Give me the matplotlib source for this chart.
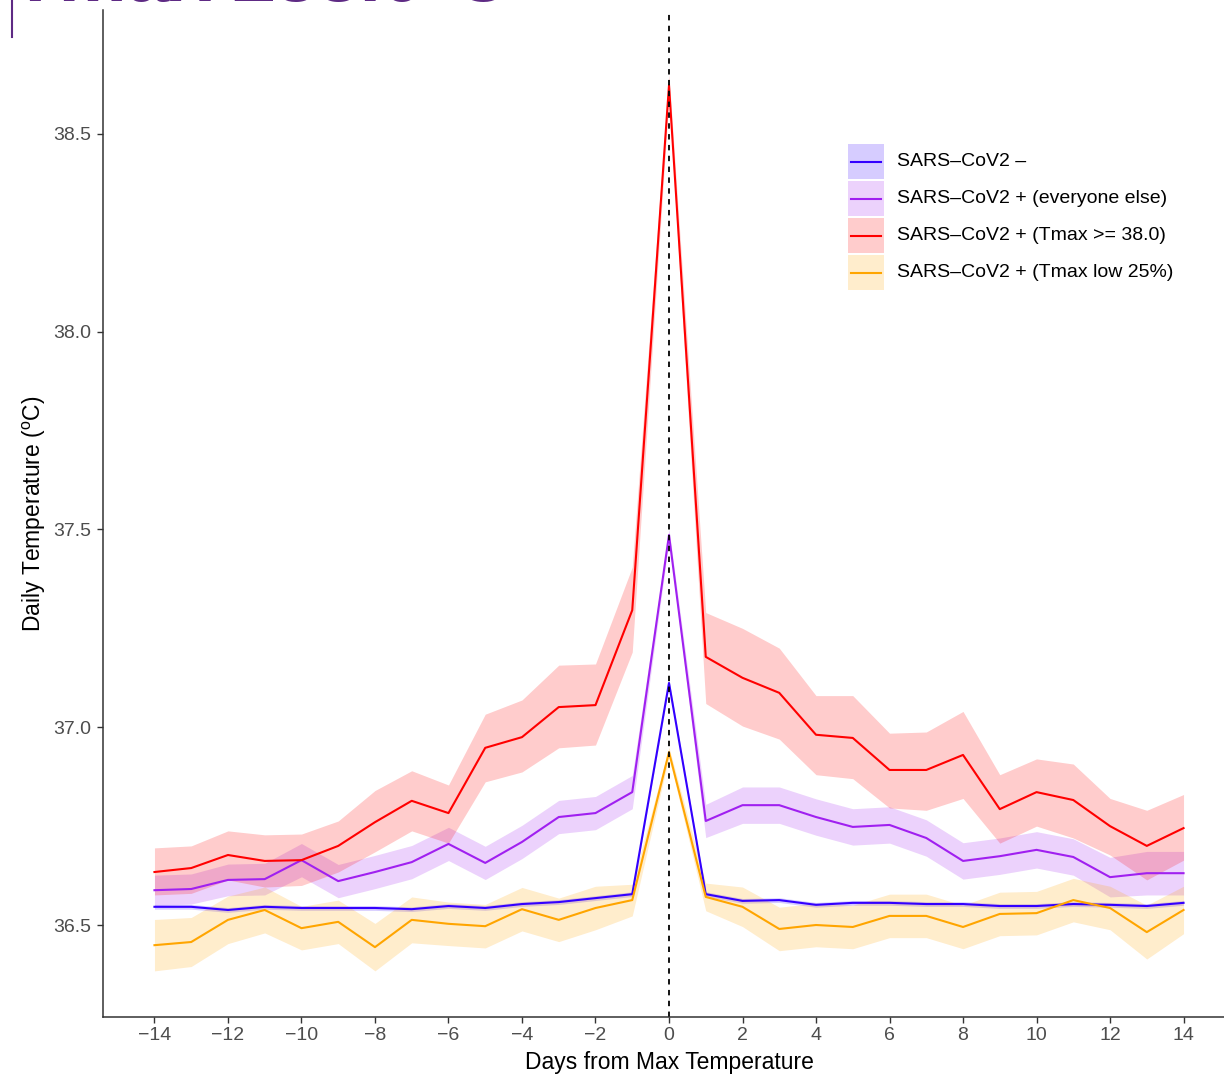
import matplotlib
matplotlib.use("Agg")
import matplotlib.pyplot as plt
from matplotlib.patches import Rectangle
from matplotlib.lines import Line2D

plt.rcParams['font.family'] = ['Liberation Sans', 'DejaVu Sans']
plt.rcParams['mathtext.fontset'] = 'custom'
plt.rcParams['mathtext.rm'] = 'Liberation Sans'

# Days relative to the day of maximum temperature
days = list(range(-14, 15))

# SARS-CoV2 negative
neg_mean = [36.546, 36.546, 36.538, 36.546, 36.543, 36.543, 36.543, 36.540, 36.548, 36.543,
            36.553, 36.558, 36.568, 36.578, 37.112, 36.578, 36.561, 36.563, 36.551, 36.556,
            36.556, 36.553, 36.553, 36.548, 36.548, 36.553, 36.551, 36.548, 36.556]
neg_ci = [0.006] * 14 + [0.008] + [0.006] * 14

# SARS-CoV2 positive, everyone else
pos_mean = [36.588, 36.591, 36.614, 36.616, 36.664, 36.611, 36.634, 36.659, 36.705, 36.657,
            36.710, 36.773, 36.783, 36.836, 37.486, 36.763, 36.803, 36.803, 36.773, 36.748,
            36.753, 36.720, 36.662, 36.674, 36.690, 36.672, 36.621, 36.631, 36.631]
pos_ci = [0.038, 0.038, 0.040, 0.040, 0.042, 0.042, 0.042, 0.042, 0.042, 0.042,
          0.042, 0.042, 0.042, 0.042, 0.015, 0.042, 0.046, 0.046, 0.046, 0.046,
          0.046, 0.046, 0.046, 0.046, 0.046, 0.046, 0.050, 0.055, 0.055]

# SARS-CoV2 positive, Tmax >= 38.0
hot_mean = [36.634, 36.644, 36.677, 36.662, 36.664, 36.700, 36.760, 36.814, 36.783, 36.948,
            36.975, 37.051, 37.056, 37.296, 38.623, 37.178, 37.125, 37.087, 36.981, 36.973,
            36.892, 36.892, 36.930, 36.793, 36.836, 36.816, 36.750, 36.700, 36.745]
hot_lo = [36.576, 36.580, 36.614, 36.596, 36.600, 36.634, 36.685, 36.738, 36.707, 36.862,
          36.887, 36.948, 36.955, 37.190, 38.595, 37.060, 37.003, 36.970, 36.880, 36.870,
          36.796, 36.790, 36.820, 36.707, 36.750, 36.720, 36.677, 36.614, 36.664]
hot_hi = [36.695, 36.700, 36.738, 36.728, 36.730, 36.763, 36.840, 36.890, 36.854, 37.033,
          37.069, 37.157, 37.160, 37.405, 38.650, 37.290, 37.250, 37.200, 37.080, 37.080,
          36.985, 36.988, 37.040, 36.880, 36.920, 36.907, 36.820, 36.790, 36.830]

# SARS-CoV2 positive, Tmax in lowest 25%
low_mean = [36.449, 36.457, 36.513, 36.538, 36.492, 36.508, 36.444, 36.513, 36.503, 36.497,
            36.540, 36.513, 36.543, 36.563, 36.937, 36.571, 36.546, 36.490, 36.500, 36.495,
            36.523, 36.523, 36.495, 36.528, 36.530, 36.563, 36.543, 36.482, 36.538]
low_ci = [0.065, 0.062, 0.060, 0.058, 0.055, 0.055, 0.060, 0.058, 0.055, 0.055,
          0.055, 0.055, 0.055, 0.040, 0.012, 0.035, 0.050, 0.055, 0.055, 0.055,
          0.055, 0.055, 0.055, 0.055, 0.055, 0.055, 0.055, 0.068, 0.060]

labels = ['SARS\u2013CoV2 \u2013', 'SARS\u2013CoV2 + (everyone else)',
          'SARS\u2013CoV2 + (Tmax >= 38.0)', 'SARS\u2013CoV2 + (Tmax low 25%)']
colors = ['#3300FF', '#A020F0', '#FF0000', '#FFA500']

series = [
    (neg_mean, [m - c for m, c in zip(neg_mean, neg_ci)], [m + c for m, c in zip(neg_mean, neg_ci)]),
    (pos_mean, [m - c for m, c in zip(pos_mean, pos_ci)], [m + c for m, c in zip(pos_mean, pos_ci)]),
    (hot_mean, hot_lo, hot_hi),
    (low_mean, [m - c for m, c in zip(low_mean, low_ci)], [m + c for m, c in zip(low_mean, low_ci)]),
]

W, H = 1224, 1075
fig = plt.figure(figsize=(W / 100, H / 100), dpi=100)
ax = fig.add_axes([103 / W, 58 / H, 1132 / W, 1007 / H])

# ribbons first, then lines on top
for (mean, lo, hi), col in zip(series, colors):
    ax.fill_between(days, lo, hi, color=col, alpha=0.2, linewidth=0)
for (mean, lo, hi), col in zip(series, colors):
    ax.plot(days, mean, color=col, linewidth=1.5)

ax.axvline(0, color='black', linestyle=(0, (3, 3)), linewidth=1.3)

ax.set_xlim(-15.4, 15.4)
ax.set_ylim(36.2674, 38.8135)
ax.set_xticks(range(-14, 15, 2))
ax.set_xticklabels([str(d).replace('-', '\u2212') for d in range(-14, 15, 2)])
ax.set_yticks([36.5, 37.0, 37.5, 38.0, 38.5])
ax.set_yticklabels(['36.5', '37.0', '37.5', '38.0', '38.5'])

for side in ['top', 'right']:
    ax.spines[side].set_visible(False)
for side in ['left', 'bottom']:
    ax.spines[side].set_color('#333333')
    ax.spines[side].set_linewidth(1.1)
ax.tick_params(axis='both', colors='#333333', labelcolor='#4D4D4D', labelsize=14,
               length=4.3, width=1.0)
ax.tick_params(axis='y', pad=4.3)
ax.tick_params(axis='x', pad=3)

ax.set_xlabel('Days from Max Temperature', fontsize=16.5, labelpad=5)
ax.set_ylabel(r'Daily Temperature ($^{\mathrm{o}}$C)', fontsize=16.5, labelpad=4)

# legend keys: shaded box with the series line through it
key_x, key_y, key_w, key_h = 848, 143, 36, 37
for i, (lab, col) in enumerate(zip(labels, colors)):
    top = key_y + i * key_h
    fig.add_artist(Rectangle((key_x / W, 1 - (top + key_h - 1) / H), key_w / W, (key_h - 2) / H,
                             transform=fig.transFigure, facecolor=col, alpha=0.2,
                             edgecolor='none'))
    yc = 1 - (top + key_h / 2) / H
    fig.add_artist(Line2D([(key_x + 3) / W, (key_x + key_w - 3) / W], [yc, yc],
                          color=col, linewidth=1.5, transform=fig.transFigure))
    fig.text((key_x + key_w + 13) / W, yc, lab, fontsize=14, ha='left', va='center',
             color='black')

# slide heading running off the top edge
fig.text(12 / W, 1 - 1 / H, 'Tmax \u226538.0\u00b0C', color='#5E2A84',
         fontsize=55, fontweight='bold', ha='left', va='baseline')
fig.add_artist(Line2D([12 / W, 12 / W], [1, 1 - 37 / H],
                      color='#5E2A84', linewidth=1.5, transform=fig.transFigure))

fig.savefig('out.png', dpi=100)
